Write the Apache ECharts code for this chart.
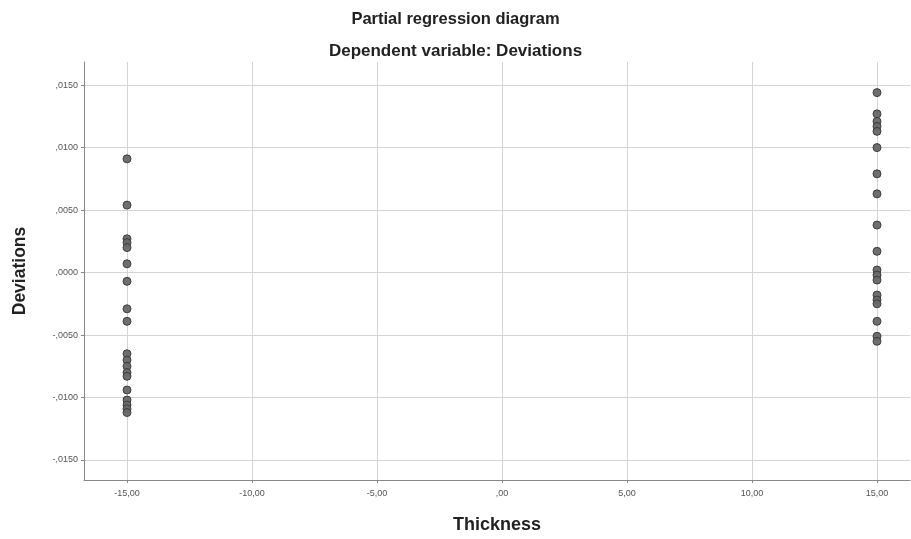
<!DOCTYPE html>
<html>
<head>
<meta charset="utf-8">
<script src="https://cdn.jsdelivr.net/npm/echarts@6/dist/echarts.min.js"></script>
<style>html,body{margin:0;padding:0;background:#fff}#c{width:911px;height:539px}</style>
</head>
<body>
<div id="c"></div>
<script>
var titleText = 'Partial regression diagram';
var subtitleText = 'Dependent variable: Deviations';
var xName = 'Thickness';
var yName = 'Deviations';
var xTicks = [-15, -10, -5, 0, 5, 10, 15];
var yTicks = [-0.015, -0.01, -0.005, 0, 0.005, 0.01, 0.015];
var leftX = -15;
var leftY = [0.0091, 0.0054, 0.0027, 0.0024, 0.0020, 0.0007, -0.0007, -0.0029, -0.0039, -0.0065, -0.0070, -0.0075, -0.0080, -0.0083, -0.0094, -0.0102, -0.0106, -0.0109, -0.0112];
var rightX = 15;
var rightY = [0.0144, 0.0127, 0.0121, 0.0117, 0.0113, 0.0100, 0.0079, 0.0063, 0.0038, 0.0017, 0.0002, -0.0002, -0.0006, -0.0018, -0.0022, -0.0025, -0.0039, -0.0051, -0.0055];

var data = leftY.map(function(v){return [leftX, v];}).concat(rightY.map(function(v){return [rightX, v];}));

function fmtY(v){
  var s = Math.abs(v).toFixed(4).replace(/^0\./, ',');
  return (v < -1e-12 ? '-' : '') + s;
}
function fmtX(v){
  var s = Math.abs(v).toFixed(2).replace('.', ',');
  s = s.replace(/^0,/, ',');
  return (v < -1e-12 ? '-' : '') + s;
}

var chart = echarts.init(document.getElementById('c'));
chart.setOption({
  backgroundColor: '#ffffff',
  animation: false,
  title: [
    {text: titleText, left: 'center', top: 6, textStyle: {fontFamily: 'Liberation Sans', fontSize: 16.5, fontWeight: 'bold', color: '#222'}},
    {text: subtitleText, left: 'center', top: 38, textStyle: {fontFamily: 'Liberation Sans', fontSize: 17, fontWeight: 'bold', color: '#222'}}
  ],
  grid: {left: 84, right: 1, top: 62, bottom: 56},
  xAxis: {
    type: 'value', min: -16.72, max: 16.32,
    name: xName, nameLocation: 'middle', nameGap: 36,
    nameTextStyle: {fontFamily: 'Liberation Sans', fontSize: 18, fontWeight: 'bold', color: '#222'},
    axisLine: {show: true, onZero: false, lineStyle: {color: '#888', width: 1}},
    axisTick: {show: true, length: 3, customValues: xTicks, lineStyle: {color: '#888'}},
    axisLabel: {customValues: xTicks, formatter: fmtX, fontFamily: 'Liberation Sans', fontSize: 9, color: '#555', margin: 9},
    splitLine: {show: true, lineStyle: {color: '#d4d4d4', width: 1}}
  },
  yAxis: {
    type: 'value', min: -0.0166, max: 0.01685,
    name: yName, nameLocation: 'middle', nameGap: 55,
    nameTextStyle: {fontFamily: 'Liberation Sans', fontSize: 17.5, fontWeight: 'bold', color: '#222'},
    axisLine: {show: true, onZero: false, lineStyle: {color: '#888', width: 1}},
    axisTick: {show: true, length: 3, customValues: yTicks, lineStyle: {color: '#888'}},
    axisLabel: {customValues: yTicks, formatter: fmtY, fontFamily: 'Liberation Sans', fontSize: 9, color: '#555', margin: 6},
    splitLine: {show: true, lineStyle: {color: '#d4d4d4', width: 1}}
  },
  series: [{
    type: 'scatter',
    data: data,
    symbolSize: 8,
    itemStyle: {color: '#676767', borderColor: '#3a3a3a', borderWidth: 1, opacity: 0.95}
  }]
});
</script>
</body>
</html>
